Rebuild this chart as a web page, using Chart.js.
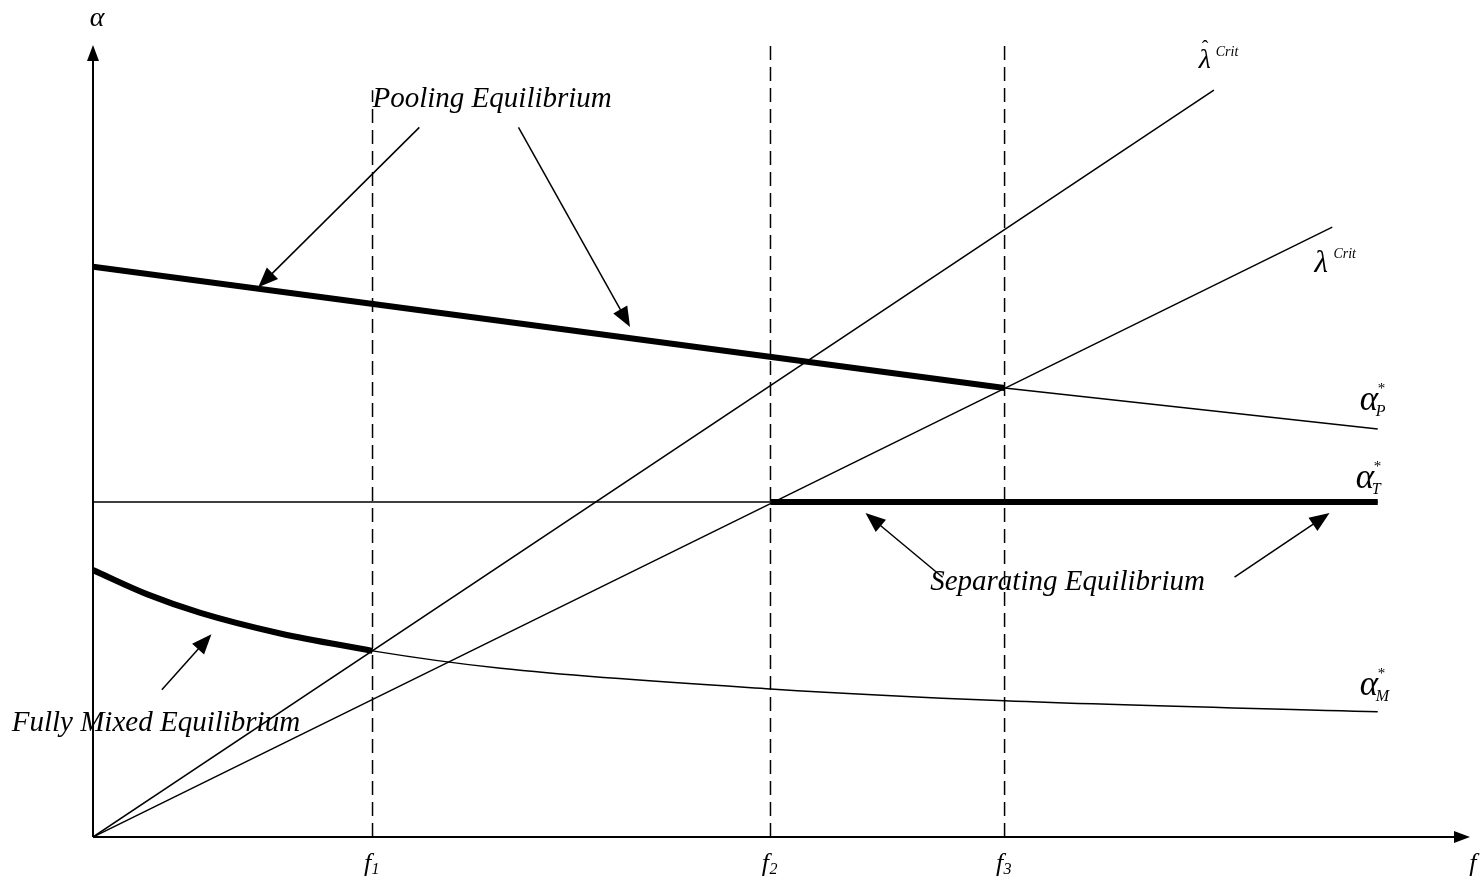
<!DOCTYPE html>
<html>
<head>
<meta charset="utf-8">
<script src="https://cdn.jsdelivr.net/npm/chart.js@4"></script>
<style>
  body { margin: 0; background: #fff; }
  canvas { display: block; }
</style>
</head>
<body>
<canvas id="myChart" width="1483" height="892"></canvas>
<script>
// threshold fees on the f axis
const fNames = ['f1', 'f2', 'f3'];
const fValues = [20.3, 49.2, 66.2];
const fEnd = 93.3;

// lambda lines start at the origin
const lambdaHatEnd = [81.4, 94.3];
const lambdaEnd = [90.0, 77.0];

// alpha curves
const alphaPx = [0, 66.2, 93.3];
const alphaPy = [72.0, 56.7, 51.5];
const alphaT = 42.3;
const alphaMx = [0, 4, 7.8, 13.6, 20.3, 29.6, 49.2, 66.2, 93.3];
const alphaMy = [33.7, 30.6, 28.3, 25.7, 23.5, 21.3, 18.7, 17.2, 15.8];

// dashed guide tops
const dashTops = [94.3, 100, 100];

// annotation arrows [tailX, tailY, headX, headY]
const arrows = [
  [23.7, 89.6, 12.0, 69.4],
  [30.9, 89.6, 39.0, 64.4],
  [61.7, 32.8, 56.1, 40.9],
  [82.9, 32.8, 89.8, 40.9],
  [5.0, 18.6, 8.6, 25.6]
];

const pts = (xs, ys) => xs.map((x, i) => ({x: x, y: ys[i]}));

const thin = {borderColor: '#000', borderWidth: 1.5, pointRadius: 0, showLine: true, fill: false};
const thick = {borderColor: '#000', borderWidth: 6, pointRadius: 0, showLine: true, fill: false};

const datasets = [
  {...thin, data: [{x: 0, y: 0}, {x: lambdaHatEnd[0], y: lambdaHatEnd[1]}]},
  {...thin, data: [{x: 0, y: 0}, {x: lambdaEnd[0], y: lambdaEnd[1]}]},
  {...thin, data: pts(alphaPx, alphaPy)},
  {...thin, data: [{x: 0, y: alphaT}, {x: fEnd, y: alphaT}]},
  {...thin, data: pts(alphaMx, alphaMy), cubicInterpolationMode: 'monotone'},
  {...thick, data: pts(alphaPx.slice(0, 2), alphaPy.slice(0, 2))},
  {...thick, borderCapStyle: 'butt', data: [{x: fValues[1], y: alphaT}, {x: fEnd, y: alphaT}]},
  {...thick, data: pts(alphaMx.slice(0, 5), alphaMy.slice(0, 5)), cubicInterpolationMode: 'monotone'}
];
fValues.forEach((f, i) => {
  datasets.push({...thin, borderDash: [14, 7], data: [{x: f, y: 0}, {x: f, y: dashTops[i]}]});
});

function arrowHead(ctx, x1, y1, x2, y2, len, w) {
  const a = Math.atan2(y2 - y1, x2 - x1);
  ctx.beginPath();
  ctx.moveTo(x2, y2);
  ctx.lineTo(x2 - len * Math.cos(a) + w * Math.sin(a), y2 - len * Math.sin(a) - w * Math.cos(a));
  ctx.lineTo(x2 - len * Math.cos(a) - w * Math.sin(a), y2 - len * Math.sin(a) + w * Math.cos(a));
  ctx.closePath();
  ctx.fill();
}

// alpha with star superscript and subscript letter
function alphaLabel(ctx, x, y, sub) {
  ctx.font = 'italic 35px "Liberation Serif"';
  ctx.fillText('\u03B1', x, y);
  ctx.font = '15px "Liberation Serif"';
  ctx.fillText('*', x + 18, y - 17);
  ctx.font = 'italic 16px "Liberation Serif"';
  ctx.fillText(sub, x + 16, y + 6);
}

const extras = {
  id: 'extras',
  afterDraw(chart) {
    const ctx = chart.ctx;
    const sx = chart.scales.x, sy = chart.scales.y;
    const X = v => sx.getPixelForValue(v), Y = v => sy.getPixelForValue(v);
    ctx.save();
    ctx.fillStyle = '#000';
    ctx.strokeStyle = '#000';

    // axes
    ctx.lineWidth = 2;
    ctx.beginPath();
    ctx.moveTo(X(0), Y(0)); ctx.lineTo(X(100) - 10, Y(0));
    ctx.moveTo(X(0), Y(0)); ctx.lineTo(X(0), Y(100) + 10);
    ctx.stroke();
    arrowHead(ctx, X(0), Y(0), X(100), Y(0), 16, 6);
    arrowHead(ctx, X(0), Y(0), X(0), Y(100), 16, 6);

    // annotation arrows
    ctx.lineWidth = 1.5;
    arrows.forEach(a => {
      const x1 = X(a[0]), y1 = Y(a[1]), x2 = X(a[2]), y2 = Y(a[3]);
      const ang = Math.atan2(y2 - y1, x2 - x1);
      ctx.beginPath();
      ctx.moveTo(x1, y1);
      ctx.lineTo(x2 - 12 * Math.cos(ang), y2 - 12 * Math.sin(ang));
      ctx.stroke();
      arrowHead(ctx, x1, y1, x2, y2, 20, 8);
    });

    // text
    ctx.textBaseline = 'alphabetic';
    ctx.font = 'italic 29px "Liberation Serif"';
    ctx.fillText('Pooling Equilibrium', X(20.3), Y(92.2));
    ctx.fillText('Separating Equilibrium', X(60.8), Y(31.2));
    ctx.fillText('Fully Mixed Equilibrium', X(-5.9), Y(13.4));

    ctx.font = 'italic 28px "Liberation Serif"';
    ctx.textAlign = 'center';
    ctx.fillText('\u03B1', X(0.3), Y(102.4));
    ctx.font = 'italic 26px "Liberation Serif"';
    ctx.fillText('f', X(100.2), Y(-4.3));
    fValues.forEach((f, i) => {
      const cx = X(f) - 5, by = Y(-4.3);
      ctx.textAlign = 'center';
      ctx.font = 'italic 26px "Liberation Serif"';
      ctx.fillText('f', cx, by);
      ctx.textAlign = 'left';
      ctx.font = 'italic 16px "Liberation Serif"';
      ctx.fillText(String(i + 1), cx + 4, by + 3);
    });

    ctx.textAlign = 'left';
    // lambda hat crit
    let lx = X(80.3), ly = Y(97.1);
    ctx.font = 'italic 28px "Liberation Serif"';
    ctx.fillText('\u03BB', lx, ly);
    ctx.font = '20px "Liberation Serif"';
    ctx.fillText('\u02C6', lx + 3, ly - 13);
    ctx.font = 'italic 14px "Liberation Serif"';
    ctx.fillText('Crit', lx + 17, ly - 12);
    // lambda crit
    lx = X(88.7); ly = Y(71.3);
    ctx.font = 'italic 31px "Liberation Serif"';
    ctx.fillText('\u03BB', lx, ly);
    ctx.font = 'italic 14px "Liberation Serif"';
    ctx.fillText('Crit', lx + 19, ly - 14);

    alphaLabel(ctx, X(92.0), Y(53.9), 'P');
    alphaLabel(ctx, X(91.7), Y(44.1), 'T');
    alphaLabel(ctx, X(92.0), Y(17.9), 'M');
    ctx.restore();
  }
};

const ctx = document.getElementById('myChart').getContext('2d');
const myChart = new Chart(ctx, {
  type: 'scatter',
  data: {datasets: datasets},
  options: {
    responsive: false,
    animation: false,
    layout: {padding: {left: 93, right: 13, top: 45, bottom: 55}},
    scales: {
      x: {type: 'linear', min: 0, max: 100, display: false},
      y: {type: 'linear', min: 0, max: 100, display: false}
    },
    plugins: {legend: {display: false}, tooltip: {enabled: false}}
  },
  plugins: [extras]
});
</script>
</body>
</html>
